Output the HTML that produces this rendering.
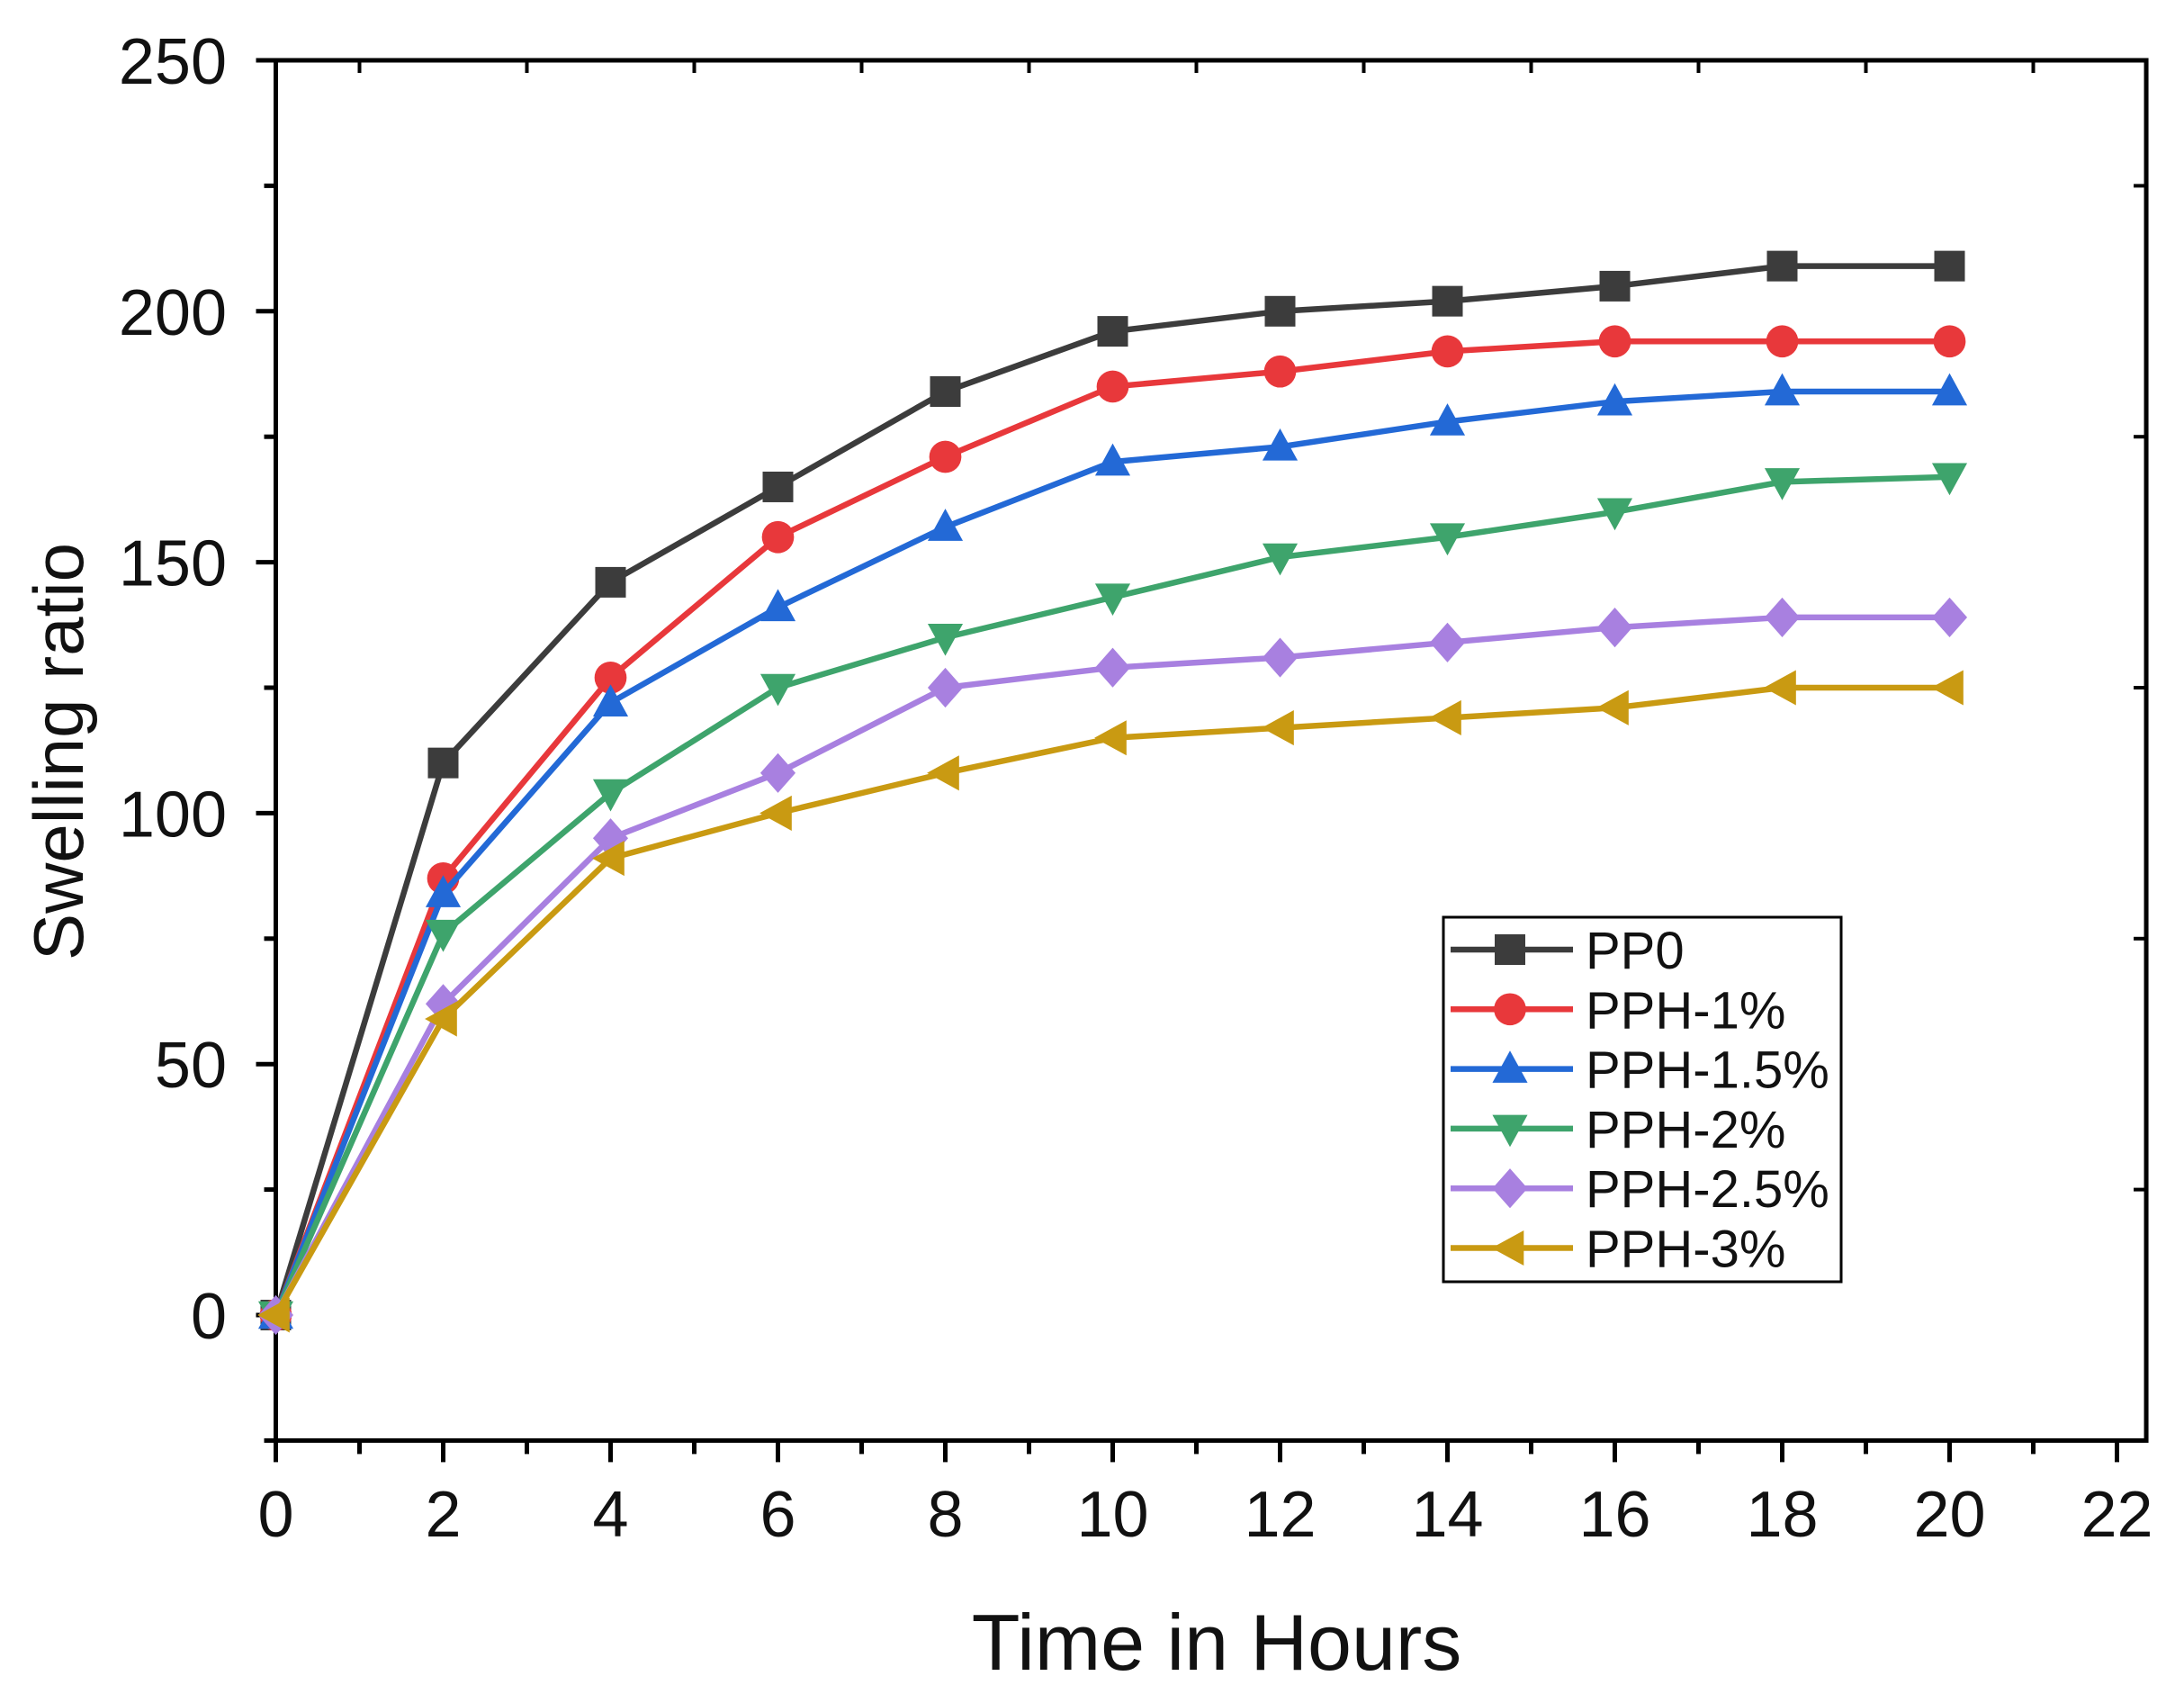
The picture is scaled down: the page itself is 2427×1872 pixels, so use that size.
<!DOCTYPE html>
<html><head><meta charset="utf-8"><style>
html,body{margin:0;padding:0;background:#fff;}
svg{display:block;font-family:"Liberation Sans",Arial,sans-serif;}
</style></head><body>
<svg id="chart" width="2427" height="1872" viewBox="0 0 2427 1872" xmlns="http://www.w3.org/2000/svg">
<rect width="2427" height="1872" fill="#fff"/>
<g id="grid"></g>
<g id="series"></g>
<g id="legend"></g>
<text x="1352" y="1855" font-size="88" text-anchor="middle" fill="#111">Time in Hours</text>
<text transform="translate(92,835) rotate(-90)" font-size="78" text-anchor="middle" fill="#111">Swelling ratio</text>
</svg>
<script>
const hours = [0,2,4,6,8,10,12,14,16,18,20];
const seriesNames = ["PP0","PPH-1%","PPH-1.5%","PPH-2%","PPH-2.5%","PPH-3%"];
const pp0 = [0,110,146,165,184,196,200,202,205,209,209];
const pph1 = [0,87,127,155,171,185,188,192,194,194,194];
const pph15 = [0,84,122,141,157,170,173,178,182,184,184];
const pph2 = [0,76,104,125,135,143,151,155,160,166,167];
const pph25 = [0,62,95,108,125,129,131,134,137,139,139];
const pph3 = [0,59,91,100,108,115,117,119,121,125,125];
const xTickLabels = ["0","2","4","6","8","10","12","14","16","18","20","22"];
const yTickLabels = ["0","50","100","150","200","250"];

const NS="http://www.w3.org/2000/svg";
const X0=306.5, PX_PER_H=93, XMAX=22.35;
const Y0=1461, PX_PER_U=278.8/50, YMIN=-25, YMAX=250;
const xs=v=>X0+v*PX_PER_H;
const ys=v=>Y0-v*PX_PER_U;
const L=xs(0), R=xs(XMAX), T=ys(YMAX), B=ys(YMIN);
function mk(tag,attrs,parent){const e=document.createElementNS(NS,tag);for(const k in attrs)e.setAttribute(k,attrs[k]);parent.appendChild(e);return e;}
const grid=document.getElementById('grid');
const frame=mk('rect',{x:L,y:T,width:R-L,height:B-T,fill:'none',stroke:'#000','stroke-width':5},grid);


for(let h=0;h<=22;h++){
  const major=h%2===0;
  const t=mk('line',{x1:xs(h),x2:xs(h),y1:B,y2:B+(major?24:15),stroke:'#000','stroke-width':5},grid);
  
  
  const tt=mk('line',{x1:xs(h),x2:xs(h),y1:T,y2:T+(major?0:14),stroke:'#000','stroke-width':4},grid);
  
  
}
xTickLabels.forEach((lab,i)=>{
  const tx=mk('text',{x:xs(i*2),y:1707,'font-size':72,'text-anchor':'middle',fill:'#111'},grid);
  tx.textContent=lab;
  
  
});
for(let v=-25;v<=250;v+=25){
  const major=v%50===0;
  const t=mk('line',{x1:L-(major?22:13),x2:L,y1:ys(v),y2:ys(v),stroke:'#000','stroke-width':5},grid);
  
  
  const rt=mk('line',{x1:R-(major?0:14),x2:R,y1:ys(v),y2:ys(v),stroke:'#000','stroke-width':4},grid);
  
  
}
yTickLabels.forEach((lab,i)=>{
  const tx=mk('text',{x:252,y:ys(i*50)+26,'font-size':72,'text-anchor':'end',fill:'#111'},grid);
  tx.textContent=lab;
  
  
});
const colors=["#3c3c3c","#e8383b","#2369d6","#3ea46c","#a880e0","#c99a12"];
const shapes=["square","circle","up","down","diamond","left"];
const data=[pp0,pph1,pph15,pph2,pph25,pph3];
function marker(shape,cx,cy,s,col,parent){
  let e;
  if(shape==='square') e=mk('rect',{x:cx-s,y:cy-s,width:2*s,height:2*s,fill:col},parent);
  else if(shape==='circle') e=mk('circle',{cx:cx,cy:cy,r:s*1.05,fill:col},parent);
  else { let p;
    if(shape==='up') p=[[cx,cy-s*1.2],[cx+s*1.15,cy+s*0.9],[cx-s*1.15,cy+s*0.9]];
    else if(shape==='down') p=[[cx,cy+s*1.2],[cx+s*1.15,cy-s*0.9],[cx-s*1.15,cy-s*0.9]];
    else if(shape==='diamond') p=[[cx,cy-s*1.3],[cx+s*1.15,cy],[cx,cy+s*1.3],[cx-s*1.15,cy]];
    else p=[[cx-s*1.2,cy],[cx+s*0.9,cy-s*1.15],[cx+s*0.9,cy+s*1.15]];
    e=mk('polygon',{points:p.map(q=>q.join(',')).join(' '),fill:col},parent);}
  return e;
}
const sg=document.getElementById('series');
data.forEach((arr,si)=>{
  const g=mk('g',{},sg);
  
  
  const pl=mk('polyline',{points:arr.map((v,i)=>xs(hours[i])+','+ys(v)).join(' '),fill:'none',stroke:colors[si],'stroke-width':6.5,'stroke-linejoin':'round'},g);
  
  
  arr.forEach((v,i)=>{
    const m=marker(shapes[si],xs(hours[i]),ys(v),17,colors[si],g);
    
    
  });
});
const lg=document.getElementById('legend');
const box=mk('rect',{x:1604,y:1019,width:442,height:405,fill:'#fff',stroke:'#000','stroke-width':3},lg);


seriesNames.forEach((n,i)=>{
  const y=1055+i*66.3;
  const g=mk('g',{},lg);
  
  
  mk('line',{x1:1612,x2:1748,y1:y,y2:y,stroke:colors[i],'stroke-width':6.5},g);
  marker(shapes[i],1678,y,17,colors[i],g);
  const t=mk('text',{x:1762,y:y+21,'font-size':58,fill:'#111'},g);
  t.textContent=n;
});
</script>
</body></html>
